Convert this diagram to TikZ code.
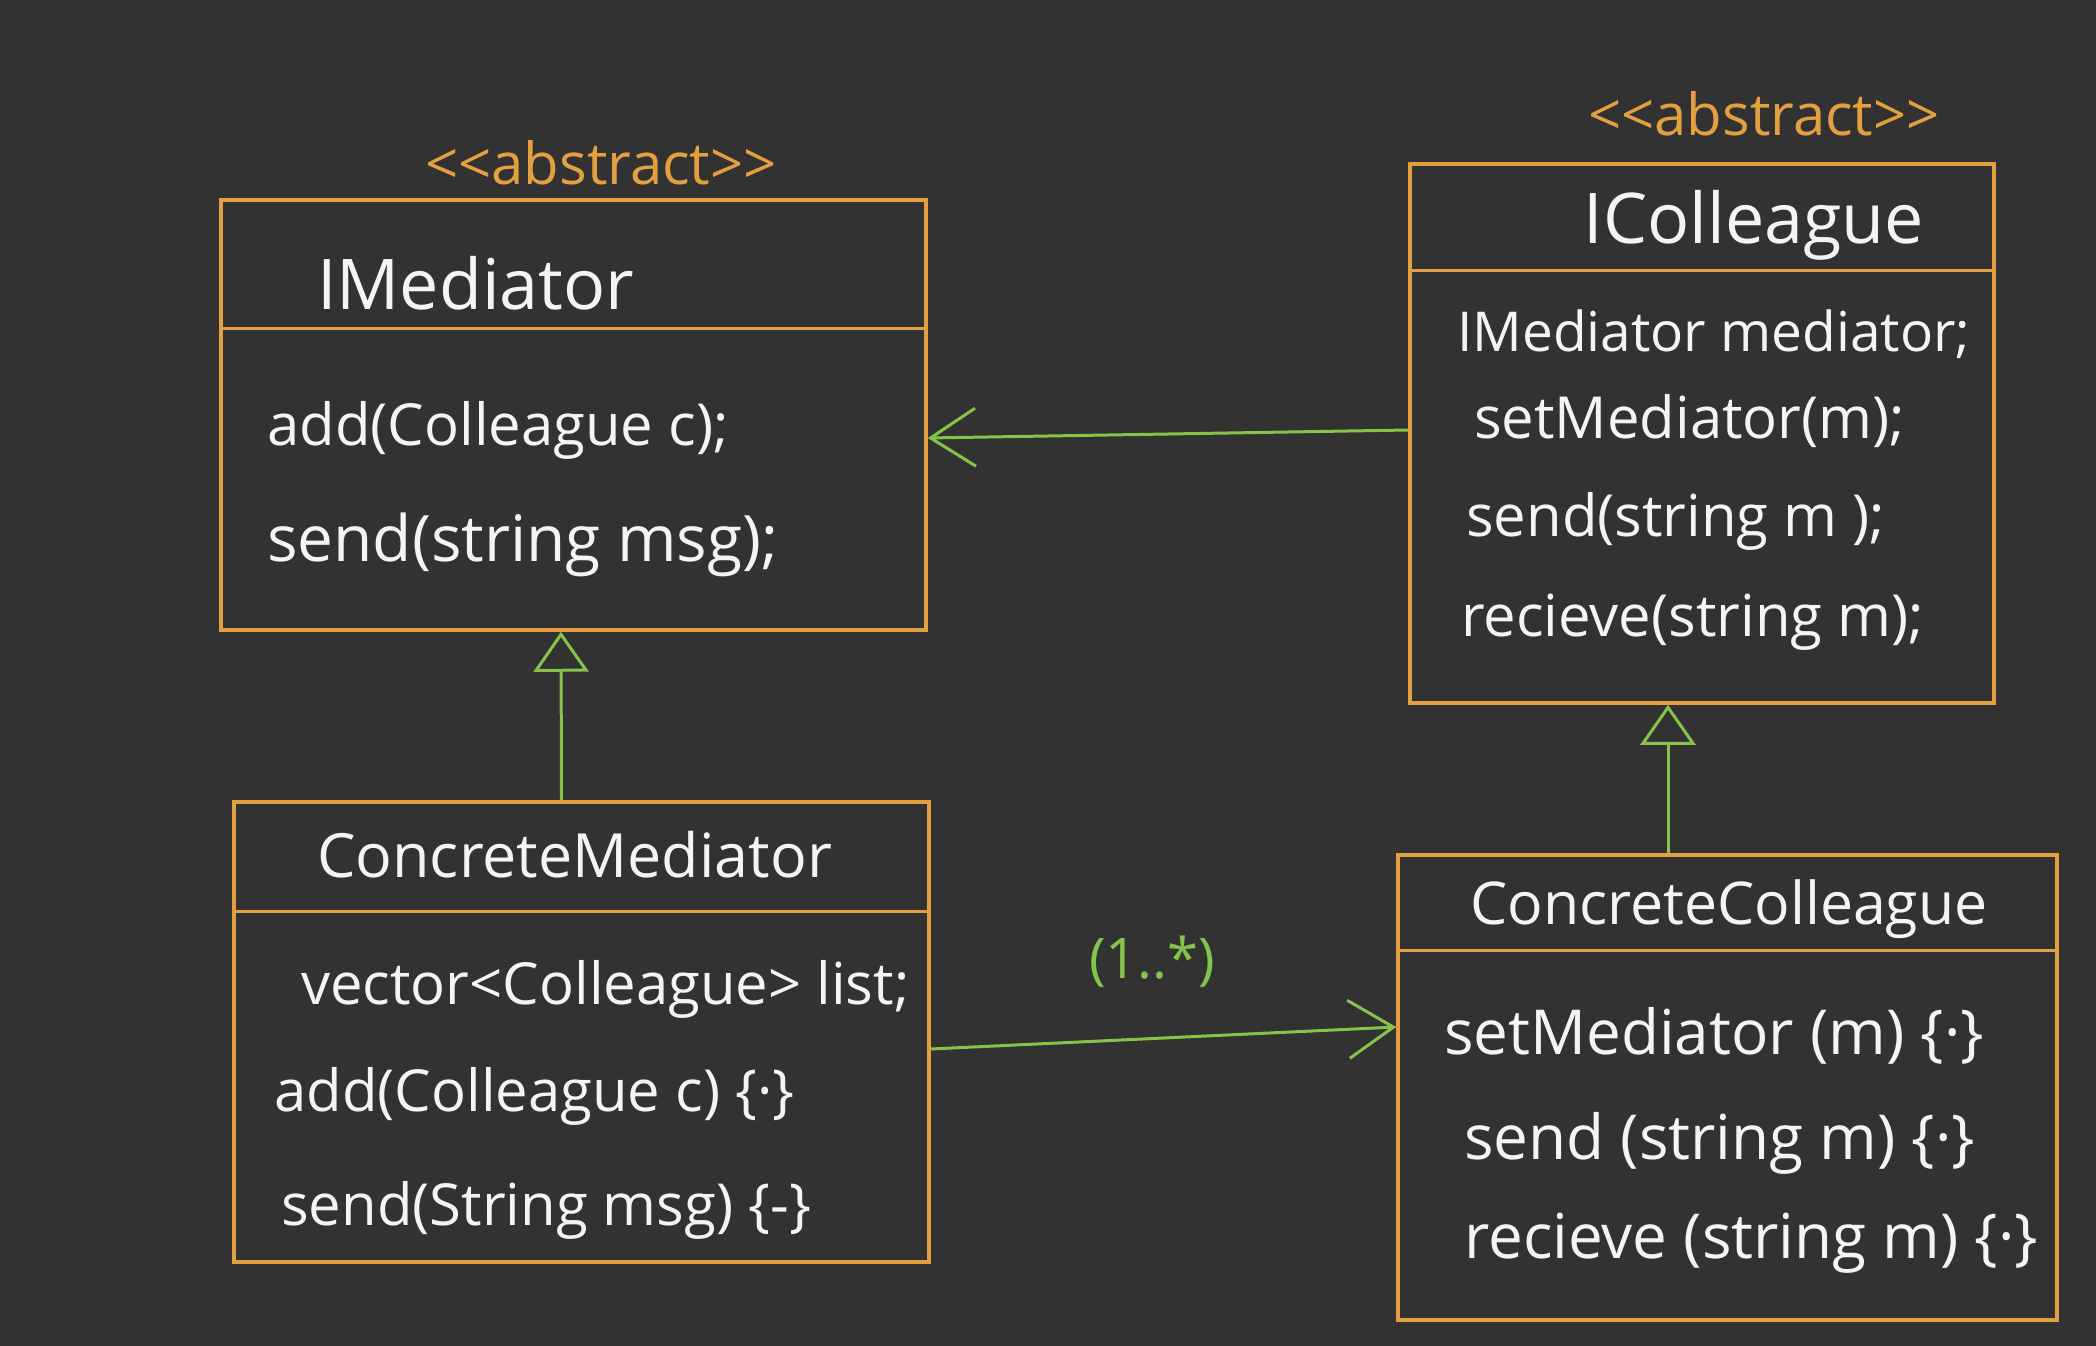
\documentclass[tikz,border=0pt]{standalone}
\usepackage{fontspec}
\setmainfont{Open Sans}
\usetikzlibrary{arrows.meta}
\definecolor{bg}{HTML}{323232}
\definecolor{boxor}{HTML}{E2A040}
\definecolor{lgreen}{HTML}{86C34B}
\definecolor{chalk}{HTML}{F4F4F4}
\begin{document}
\begin{tikzpicture}[x=1pt,y=-1pt,
  umlbox/.style={draw=boxor, line width=3.5pt, rectangle, inner sep=0pt},
  divline/.style={draw=boxor, line width=3.5pt},
  member/.style={anchor=west, text=chalk, font=\fontsize{58}{64}\selectfont, inner sep=0pt},
  bigmember/.style={member, font=\fontsize{62}{68}\selectfont},
  ctitle/.style={text=chalk, font=\fontsize{61}{68}\selectfont, inner sep=0pt},
  stereo/.style={text=boxor, font=\fontsize{58}{64}\selectfont, inner sep=0pt},
  gen/.style={draw=lgreen, line width=3pt, -{Triangle[open, length=40pt, width=55pt, line width=3pt]}},
  assoc/.style={draw=lgreen, line width=3pt, -{Straight Barb[length=45pt, width=58pt, line width=3pt]}},
  mult/.style={text=lgreen, font=\fontsize{56}{62}\selectfont, inner sep=0pt}
]
\fill[bg] (0,0) rectangle (2096,1346);
\useasboundingbox (0,0) rectangle (2096,1346);

% IMediator
\node[umlbox, minimum width=705pt, minimum height=430pt] (med) at (573.5,415) {};
\draw[divline] ([yshift=-130pt]med.north west) -- ([yshift=-130pt]med.north east);
\node[stereo] (medst) at (601,163) {<{}<abstract>{}>};
\node[ctitle, anchor=west, font=\fontsize{70}{76}\selectfont] (medt) at (317,283) {IMediator};
\node[member] (medm1) at (267,430) {add(Colleague c);};
\node[member, font=\fontsize{64}{70}\selectfont] (medm2) at (267,545) {send(string msg);};

% IColleague
\node[umlbox, minimum width=584pt, minimum height=539pt] (col) at (1702,433.5) {};
\draw[divline] ([yshift=-108pt]col.north west) -- ([yshift=-108pt]col.north east);
\node[stereo] (colst) at (1764,114) {<{}<abstract>{}>};
\node[ctitle, font=\fontsize{70}{76}\selectfont] (colt) at (1754,225) {IColleague};
\node[member, font=\fontsize{55}{61}\selectfont] (colm1) at (1457,334) {IMediator mediator;};
\node[member] (colm2) at (1474,421) {setMediator(m);};
\node[member] (colm3) at (1466,521) {send(string m );};
\node[member] (colm4) at (1461,622) {recieve(string m);};

% ConcreteMediator
\node[umlbox, minimum width=695pt, minimum height=460pt] (cmed) at (581.5,1032) {};
\draw[divline] ([yshift=-111pt]cmed.north west) -- ([yshift=-111pt]cmed.north east);
\node[ctitle, anchor=west] (cmedt) at (317,855) {ConcreteMediator};
\node[member] (cmedm1) at (301,989) {vector<Colleague> list;};
\node[member] (cmedm2) at (274,1096) {add(Colleague c) \{·\}};
\node[member] (cmedm3) at (281,1210) {send(String msg) \{-\}};

% ConcreteColleague
\node[umlbox, minimum width=659pt, minimum height=465pt] (ccol) at (1727.5,1087.5) {};
\draw[divline] ([yshift=-97pt]ccol.north west) -- ([yshift=-97pt]ccol.north east);
\node[ctitle, anchor=west, font=\fontsize{59}{66}\selectfont] (ccolt) at (1470,909) {ConcreteColleague};
\node[bigmember] (ccolm1) at (1444,1036) {setMediator (m) \{·\}};
\node[bigmember] (ccolm2) at (1464,1143) {send (string m) \{·\}};
\node[bigmember] (ccolm3) at (1464,1243) {recieve (string m) \{·\}};

% connectors
\draw[assoc] ([yshift=3.5pt]col.west) -- ([yshift=-23pt]med.east);
\draw[gen] ([xshift=-20pt]cmed.north) -- ([xshift=-12.5pt]med.south);
\draw[gen] ([xshift=-59.5pt]ccol.north) -- ([xshift=-34pt]col.south);
\draw[assoc] ([yshift=-17pt]cmed.east) -- ([yshift=60.5pt]ccol.west);
\node[mult] (m1) at (1152,962) {(1..*)};
\end{tikzpicture}
\end{document}
